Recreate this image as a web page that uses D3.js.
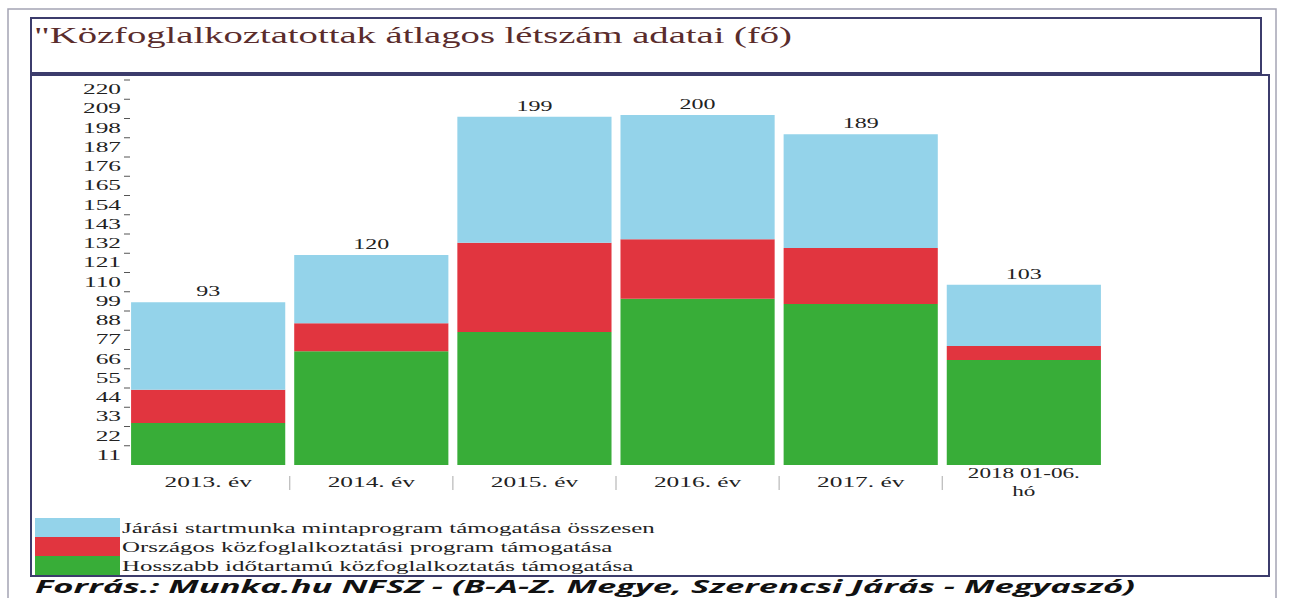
<!DOCTYPE html>
<html>
<head>
<meta charset="utf-8">
<script src="https://cdn.jsdelivr.net/npm/d3@7"></script>
<style>
  html, body { margin: 0; padding: 0; background: #fff; overflow: hidden; }
  svg { display: block; }
</style>
</head>
<body>
<svg id="chart" width="1290" height="598"></svg>
<script>
const categories = ['2013. év', '2014. év', '2015. év', '2016. év', '2017. év', '2018 01-06.|hó'];
const hosszabb = [24, 65, 76, 95, 92, 60];   // green, bottom
const orszagos = [19, 16, 51, 34, 32, 8];    // red, middle
const jarasi = [50, 39, 72, 71, 65, 35];     // light blue, top
const totals = [93, 120, 199, 200, 189, 103];
const yTicks = d3.range(11, 221, 11);

const seriesNames = [
  'Járási startmunka mintaprogram támogatása összesen',
  'Országos közfoglalkoztatási program támogatása',
  'Hosszabb időtartamú közfoglalkoztatás támogatása'
];
const seriesColors = ['#94d3ea', '#e1353f', '#38ad38'];

const svg = d3.select('#chart');
const SERIF = '"Liberation Serif", "DejaVu Serif", serif';
const SX = 1.85; // picture is stretched sideways

// text with horizontal stretch around its anchor point
function stretchedText(parent, x, y, str, opts) {
  const g = parent.append('g').attr('transform', `translate(${x},${y}) scale(${opts.sx || SX},1)`);
  return g.append('text')
    .attr('x', 0).attr('y', 0)
    .attr('text-anchor', opts.anchor || 'start')
    .attr('font-family', opts.family || SERIF)
    .attr('font-size', opts.size || 14)
    .attr('font-weight', opts.weight || 'normal')
    .attr('fill', opts.fill || '#222')
    .text(str);
}

// frames
svg.append('rect').attr('x', 8).attr('y', 9).attr('width', 1268).attr('height', 620)
  .attr('fill', 'none').attr('stroke', '#a4a4b4').attr('stroke-width', 1.5);
svg.append('rect').attr('x', 31).attr('y', 18).attr('width', 1230).attr('height', 55)
  .attr('fill', 'none').attr('stroke', '#3c3c6c').attr('stroke-width', 2);
svg.append('rect').attr('x', 31).attr('y', 75).attr('width', 1238).attr('height', 501)
  .attr('fill', 'none').attr('stroke', '#3c3c6c').attr('stroke-width', 2);

// title
svg.append('text')
  .attr('x', 34).attr('y', 43)
  .attr('font-family', SERIF).attr('font-size', 23)
  .attr('fill', '#5a2c2c')
  .attr('textLength', 758).attr('lengthAdjust', 'spacingAndGlyphs')
  .text('"Közfoglalkoztatottak átlagos létszám adatai (fő)');

// scales
const x = d3.scaleBand().domain(categories).range([127, 1105]).paddingInner(0.055).paddingOuter(0.025);
const y = d3.scaleLinear().domain([0, 220]).range([465, 80]);

// stacked bars
const rows = categories.map((c, i) => ({ cat: c, h: hosszabb[i], o: orszagos[i], j: jarasi[i] }));
const stack = d3.stack().keys(['h', 'o', 'j'])(rows);
const keyColor = { h: seriesColors[2], o: seriesColors[1], j: seriesColors[0] };

svg.append('g').selectAll('g').data(stack).join('g')
  .attr('fill', d => keyColor[d.key])
  .selectAll('rect').data(d => d).join('rect')
  .attr('x', d => x(d.data.cat))
  .attr('width', x.bandwidth())
  .attr('y', d => y(d[1]))
  .attr('height', d => y(d[0]) - y(d[1]));

// total labels
const labels = svg.append('g');
categories.forEach((c, i) => {
  stretchedText(labels, x(c) + x.bandwidth() / 2, y(totals[i]) - 6, String(totals[i]),
    { anchor: 'middle', size: 15, sx: 1.6 });
});

// y axis: ticks with labels sitting below them
const ya = svg.append('g');
ya.selectAll('line').data(yTicks).join('line')
  .attr('x1', 124).attr('x2', 130)
  .attr('y1', d => y(d)).attr('y2', d => y(d))
  .attr('stroke', '#555').attr('stroke-width', 1);
yTicks.forEach(v => {
  stretchedText(ya, 121, y(v) + 14, String(v), { anchor: 'end', size: 14.5, sx: 1.75 });
});

// x labels and separators
const xa = svg.append('g');
categories.forEach((c, i) => {
  const cx = x(c) + x.bandwidth() / 2;
  const parts = c.split('|');
  if (parts.length === 1) {
    stretchedText(xa, cx, 487, parts[0], { anchor: 'middle', size: 14.5, sx: 1.75 });
  } else {
    stretchedText(xa, cx, 478, parts[0], { anchor: 'middle', size: 14.5, sx: 1.6 });
    stretchedText(xa, cx, 496, parts[1], { anchor: 'middle', size: 14.5, sx: 1.6 });
  }
  if (i > 0) {
    const sx = x(c) - x.step() * x.paddingInner() / 2;
    xa.append('line').attr('x1', sx).attr('x2', sx).attr('y1', 476).attr('y2', 490)
      .attr('stroke', '#b8b8b8').attr('stroke-width', 1.2);
  }
});

// legend
const lg = svg.append('g');
seriesNames.forEach((name, i) => {
  const top = 518 + i * 19;
  lg.append('rect').attr('x', 35).attr('y', top).attr('width', 85).attr('height', 19)
    .attr('fill', seriesColors[i]);
  stretchedText(lg, 122, top + 15, name, { size: 14.5, sx: 1.72 });
});

// source line
svg.append('text')
  .attr('x', 35).attr('y', 593)
  .attr('font-family', '"Open Sans", "Noto Sans", sans-serif')
  .attr('font-size', 17).attr('font-weight', 'bold').attr('font-style', 'italic')
  .attr('fill', '#111')
  .attr('textLength', 1100).attr('lengthAdjust', 'spacingAndGlyphs')
  .text('Forrás.: Munka.hu  NFSZ - (B-A-Z. Megye, Szerencsi Járás - Megyaszó)');
</script>
</body>
</html>
